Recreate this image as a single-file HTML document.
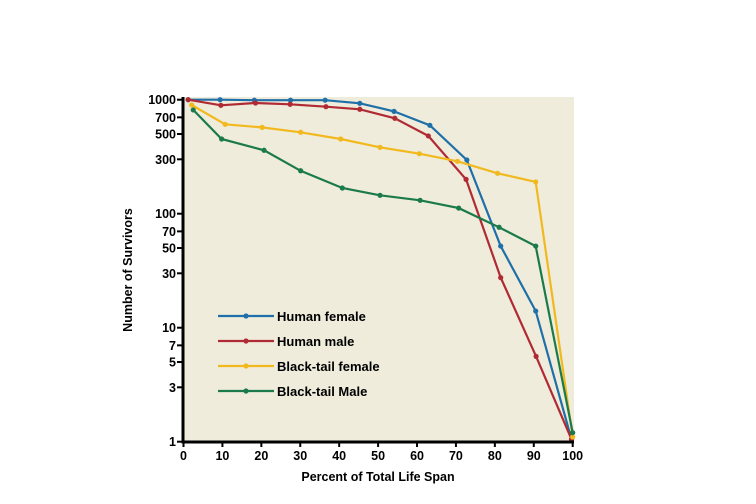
<!DOCTYPE html>
<html><head><meta charset="utf-8"><style>
html,body{margin:0;padding:0;background:#fff;}
svg{display:block;font-family:"Liberation Sans",Arial,sans-serif;font-weight:bold;}
</style></head><body>
<svg id="chart" width="756" height="504" viewBox="0 0 756 504" xmlns="http://www.w3.org/2000/svg">
<rect x="183" y="97" width="391" height="345" fill="#efecdc"/>
<g id="series"></g>
<g id="axes"></g>
<g id="legend"></g>
<text x="378" y="481" font-size="12.5" text-anchor="middle">Percent of Total Life Span</text>
<text transform="translate(132,270) rotate(-90)" font-size="12.5" text-anchor="middle">Number of Survivors</text>
</svg>
<script>
const xTicks = [0,10,20,30,40,50,60,70,80,90,100];
const yTicks = [1,3,5,7,10,30,50,70,100,300,500,700,1000];
const seriesNames = ["Human female","Human male","Black-tail female","Black-tail Male"];
const seriesColors = ["#1f6fa8","#b02a34","#f2b91e","#1b7a4a"];
const femaleX = [1.2,9.4,18.2,27.5,36.4,45.3,54.1,63.3,72.8,81.5,90.5,99.7];
const femaleY = [1000,1000,990,990,990,930,790,596,296,52,14,1.05];
const maleX = [1.2,9.6,18.5,27.4,36.6,45.3,54.3,62.9,72.6,81.5,90.6,99.7];
const maleY = [1000,893,935,912,868,824,687,481,200,27.5,5.6,1.05];
const btFemaleX = [2.1,10.7,20.2,30.1,40.4,50.5,60.6,70.4,80.7,90.5,100];
const btFemaleY = [899,608,572,518,452,382,336,288,226,190,1.1];
const btMaleX = [2.5,9.8,20.7,30.1,40.8,50.5,60.8,70.7,81.1,90.5,100];
const btMaleY = [813,452,360,238,168,145,131,112,76,52,1.2];

const NS="http://www.w3.org/2000/svg";
const X0=183.5,X1=572.7,Y1=441.7,Y1000=99.7;
function sx(v){return X0+(X1-X0)*v/100;}
function sy(v){return Y1-(Y1-Y1000)*Math.log10(v)/3;}
function mk(tag,attrs,parent){const e=document.createElementNS(NS,tag);for(const k in attrs)e.setAttribute(k,attrs[k]);parent.appendChild(e);return e;}

const sg=document.getElementById('series');
const all=[[femaleX,femaleY],[maleX,maleY],[btFemaleX,btFemaleY],[btMaleX,btMaleY]];
all.forEach((s,i)=>{
  const pts=s[0].map((x,j)=>sx(x).toFixed(1)+','+sy(s[1][j]).toFixed(1)).join(' ');
  const pl=mk('polyline',{points:pts,fill:'none',stroke:seriesColors[i],'stroke-width':2.2},sg);
  
  
  s[0].forEach((x,j)=>{
    const c=mk('circle',{cx:sx(x),cy:sy(s[1][j]),r:2.6,fill:seriesColors[i]},sg);
    
    
  });
});

const ag=document.getElementById('axes');
const ya=mk('line',{x1:183,y1:97,x2:183,y2:443,stroke:'#000','stroke-width':3},ag);


const xa=mk('line',{x1:181.5,y1:442,x2:574,y2:442,stroke:'#000','stroke-width':3},ag);


yTicks.forEach(v=>{
  const y=sy(v);
  const t=mk('line',{x1:177,y1:y,x2:183,y2:y,stroke:'#000','stroke-width':2},ag);
  
  
  const l=mk('text',{x:176,y:y+4.5,'font-size':12.5,'text-anchor':'end'},ag);
  l.textContent=v;
  
  
});
xTicks.forEach(v=>{
  const x=sx(v);
  const t=mk('line',{x1:x,y1:442,x2:x,y2:447,stroke:'#000','stroke-width':2},ag);
  
  
  const l=mk('text',{x:x,y:460,'font-size':12.5,'text-anchor':'middle'},ag);
  l.textContent=v;
  
  
});

const lg=document.getElementById('legend');
seriesNames.forEach((n,i)=>{
  const y=316+i*25;
  const ln=mk('line',{x1:218,y1:y,x2:274,y2:y,stroke:seriesColors[i],'stroke-width':2.2},lg);
  
  
  const c=mk('circle',{cx:246,cy:y,r:2.6,fill:seriesColors[i]},lg);
  
  
  const t=mk('text',{x:277,y:y+5,'font-size':13},lg);
  t.textContent=n;
  
  
});
</script>
</body></html>
